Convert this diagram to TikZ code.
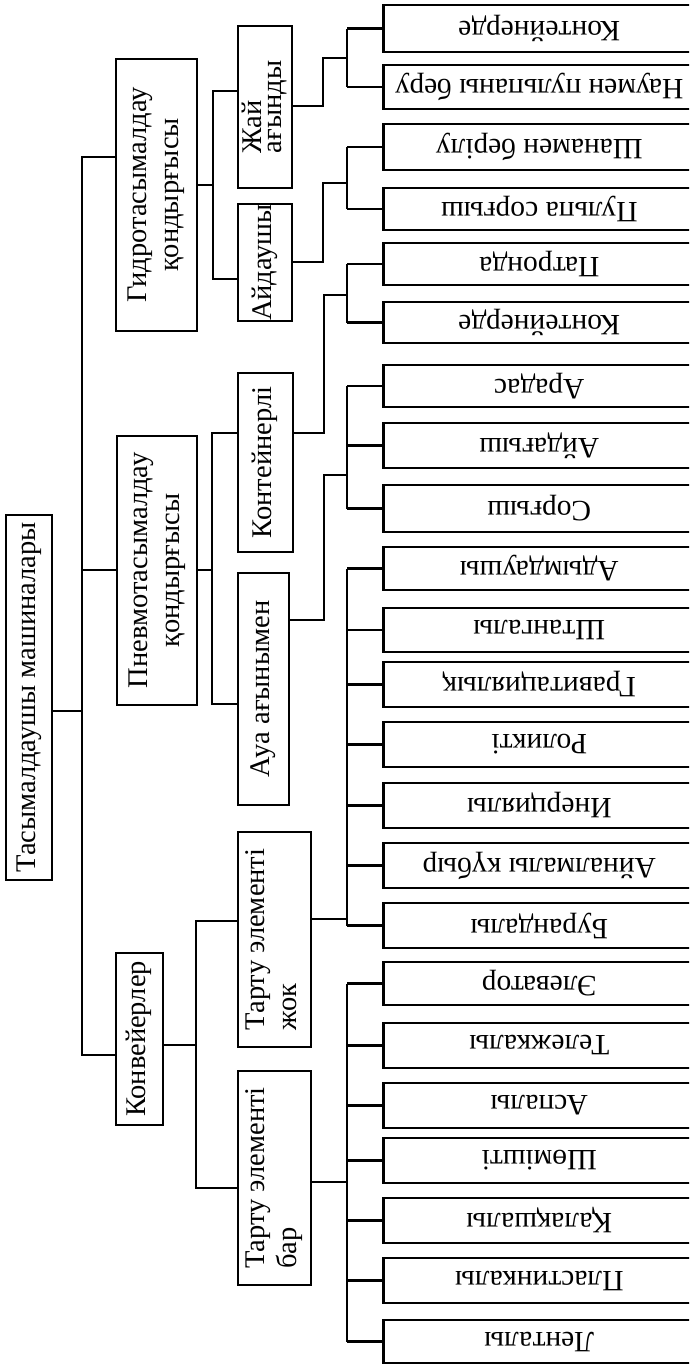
\documentclass[tikz,border=0pt]{standalone}
\usepackage{fontspec}
\setmainfont{Liberation Serif}
\usepackage{graphicx}

% rotated labels: read upward (optional column alignment), and upside down
\newcommand{\upward}[2][c]{\rotatebox{90}{\begin{tabular}{@{}#1@{}}#2\end{tabular}}}
\newcommand{\flipped}[1]{\rotatebox{180}{#1}}

\begin{document}
\begin{tikzpicture}[x=1pt,y=-1pt,
  line width=2.6pt, line join=miter,
  box/.style={draw, line width=2.6pt, inner sep=0pt, font=\fontsize{28.5}{32}\selectfont},
  leafbox/.style={box, minimum width=312pt, anchor=west, font=\fontsize{29.5}{32}\selectfont},
]
\fill[white] (0,0) rectangle (689,1365);
\useasboundingbox (0,0) rectangle (689,1365);
\clip (0,0) rectangle (689,1365);

% root
\node[box, minimum width=46pt, minimum height=365pt] (root) at (29,697.5) {\upward{Тасымалдаушы машиналары}};

% second level
\node[box, minimum width=81pt, minimum height=272pt] (hydro) at (156.5,195) {\upward{Гидротасымалдау\\қондырғысы}};
\node[box, minimum width=80pt, minimum height=269pt] (pneumo) at (157,570.5) {\upward{Пневмотасымалдау\\қондырғысы}};
\node[box, minimum width=47pt, minimum height=172pt] (conv) at (139.5,1039) {\upward{Конвейерлер}};

% third level
\node[box, minimum width=54pt, minimum height=162pt] (jai) at (265,107) {\upward[l]{Жай\\[-12pt]ағынды}};
\node[box, minimum width=54pt, minimum height=107pt] (aid) at (265,262.5) {\upward{Айдаушы}};
\node[box, minimum width=55pt, minimum height=179pt] (kont) at (265.5,462.5) {\upward{Контейнерлі}};
\node[box, minimum width=51pt, minimum height=232pt] (aua) at (263.5,689) {\upward{Ауа ағынымен}};
\node[box, minimum width=73pt, minimum height=215pt] (tzhok) at (274.5,939.5) {\upward[l]{Тарту элементі\\жок}};
\node[box, minimum width=73pt, minimum height=214pt] (tbar) at (274.5,1178) {\upward[l]{Тарту элементі\\бар}};

% leaves
\node[leafbox, minimum height=47pt] (l1) at (382,28.5) {\flipped{Контейнерде}};
\node[leafbox, minimum height=44pt] (l2) at (382,87) {\flipped{Наумен пульпаны беру}};
\node[leafbox, minimum height=46pt] (l3) at (382,147) {\flipped{Шанамен берілу}};
\node[leafbox, minimum height=42pt] (l4) at (382,209) {\flipped{Пульпа сорғыш}};
\node[leafbox, minimum height=42pt] (l5) at (382,264) {\flipped{Патронда}};
\node[leafbox, minimum height=41pt] (l6) at (382,322.5) {\flipped{Контейнерде}};
\node[leafbox, minimum height=42pt] (l7) at (382,386) {\flipped{Арадас}};
\node[leafbox, minimum height=45pt] (l8) at (382,445.5) {\flipped{Айдағыш}};
\node[leafbox, minimum height=47pt] (l9) at (382,508.5) {\flipped{Сорғыш}};
\node[leafbox, minimum height=43pt] (l10) at (382,568.5) {\flipped{Адымдаушы}};
\node[leafbox, minimum height=44pt] (l11) at (382,630) {\flipped{Штангалы}};
\node[leafbox, minimum height=45pt] (l12) at (382,684.5) {\flipped{Гравитациялық}};
\node[leafbox, minimum height=45pt] (l13) at (382,744.5) {\flipped{Роликті}};
\node[leafbox, minimum height=45pt] (l14) at (382,805.5) {\flipped{Инерциялы}};
\node[leafbox, minimum height=45pt] (l15) at (382,865.5) {\flipped{Айналмалы күбыр}};
\node[leafbox, minimum height=45pt] (l16) at (382,925.5) {\flipped{Бурандалы}};
\node[leafbox, minimum height=43pt] (l17) at (382,983.5) {\flipped{Элеватор}};
\node[leafbox, minimum height=45pt] (l18) at (382,1045.5) {\flipped{Тележкалы}};
\node[leafbox, minimum height=45pt] (l19) at (382,1105.5) {\flipped{Аспалы}};
\node[leafbox, minimum height=45pt] (l20) at (382,1160.5) {\flipped{Шөмішті}};
\node[leafbox, minimum height=45pt] (l21) at (382,1220.5) {\flipped{Қалақшалы}};
\node[leafbox, minimum height=45pt] (l22) at (382,1280.5) {\flipped{Пластинкалы}};
\node[leafbox, minimum height=43pt] (l23) at (382,1341.5) {\flipped{Ленталы}};

% trunk from the root
\coordinate (t1) at (82,157);
\coordinate (t2) at (82,570);
\coordinate (t3) at (82,711);
\coordinate (t4) at (82,1055);
\draw (hydro.west |- t1) -- (t1) -- (t4) -- (conv.west |- t4);
\draw (pneumo.west |- t2) -- (t2);
\draw (root.east |- t3) -- (t3);

% second level to third level
\coordinate (h1) at (213,91);
\coordinate (h2) at (213,279);
\draw (hydro.east |- 0,185) -- (213,185);
\draw (jai.west |- h1) -- (h1) -- (h2) -- (aid.west |- h2);
\coordinate (p1) at (212,433);
\coordinate (p2) at (212,704);
\draw (pneumo.east |- 0,570) -- (212,570);
\draw (kont.west |- p1) -- (p1) -- (p2) -- (aua.west |- p2);
\coordinate (c1) at (196,921);
\coordinate (c2) at (196,1188);
\draw (conv.east |- 0,1045) -- (196,1045);
\draw (tzhok.west |- c1) -- (c1) -- (c2) -- (tbar.west |- c2);

% third level to the leaf buses
\draw (jai.east |- 0,106) -- (323,106) -- (323,58) -- (347,58);
\draw (aid.east |- 0,262) -- (323,262) -- (323,183) -- (347,183);
\draw (kont.east |- 0,433) -- (324,433) -- (324,295) -- (347,295);
\draw (aua.east |- 0,620) -- (324,620) -- (324,475) -- (347,475);
\draw (tzhok.east |- 0,919) -- (347,919);
\draw (tbar.east |- 0,1182) -- (347,1182);

% leaf buses
\foreach \a/\b in {l1/l2, l3/l4, l5/l6, l7/l9, l10/l16, l17/l23}
  \draw ([xshift=-35pt]\a.west) -- ([xshift=-35pt]\b.west);
\foreach \n in {1,...,23}
  \draw ([xshift=-35pt]l\n.west) -- (l\n.west);
\end{tikzpicture}
\end{document}
